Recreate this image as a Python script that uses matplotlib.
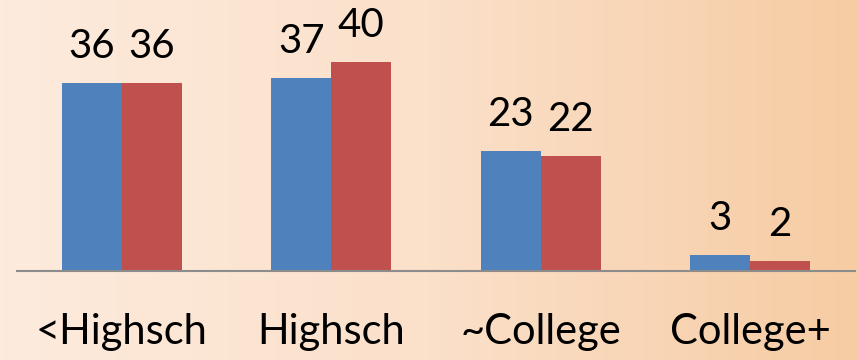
import numpy as np
import matplotlib.pyplot as plt
from matplotlib.colors import LinearSegmentedColormap

categories = ['<Highsch', 'Highsch', '~College', 'College+']
series_a = [36, 37, 23, 3]
series_b = [36, 40, 22, 2]

fig = plt.figure(figsize=(8.58, 3.6), dpi=100)

# background gradient
bg = fig.add_axes([0, 0, 1, 1])
grad = np.linspace(0, 1, 256).reshape(1, -1)
cmap = LinearSegmentedColormap.from_list('peach', ['#FDEBDD', '#FBE0CA', '#F6CCA3'])
bg.imshow(grad, aspect='auto', cmap=cmap, extent=[0, 1, 0, 1])
bg.axis('off')

ax = fig.add_axes([17 / 858, 89 / 360, 838 / 858, 271 / 360])
ax.patch.set_alpha(0)
x = np.arange(len(categories))
w = 0.286
ba = ax.bar(x - w / 2, series_a, w, color='#4F81BD')
bb = ax.bar(x + w / 2, series_b, w, color='#C0504D')

for bars in (ba, bb):
    for b in bars:
        ax.annotate(str(int(b.get_height())), (b.get_x() + b.get_width() / 2, b.get_height()),
                    xytext=(0, 13), textcoords='offset points', ha='center', va='bottom',
                    fontsize=29, family='Lato')

ax.set_xlim(-0.5, 3.5)
ax.set_ylim(0, 271 / 5.22)
ax.set_yticks([])
ax.set_xticks(x)
ax.set_xticklabels(categories, fontsize=30, family='Lato')
ax.tick_params(axis='x', length=0, pad=30)
for s in ['top', 'right', 'left']:
    ax.spines[s].set_visible(False)
ax.spines['bottom'].set_color('#8C8C8C')
ax.spines['bottom'].set_linewidth(1.5)

fig.savefig('out.png', dpi=100)
